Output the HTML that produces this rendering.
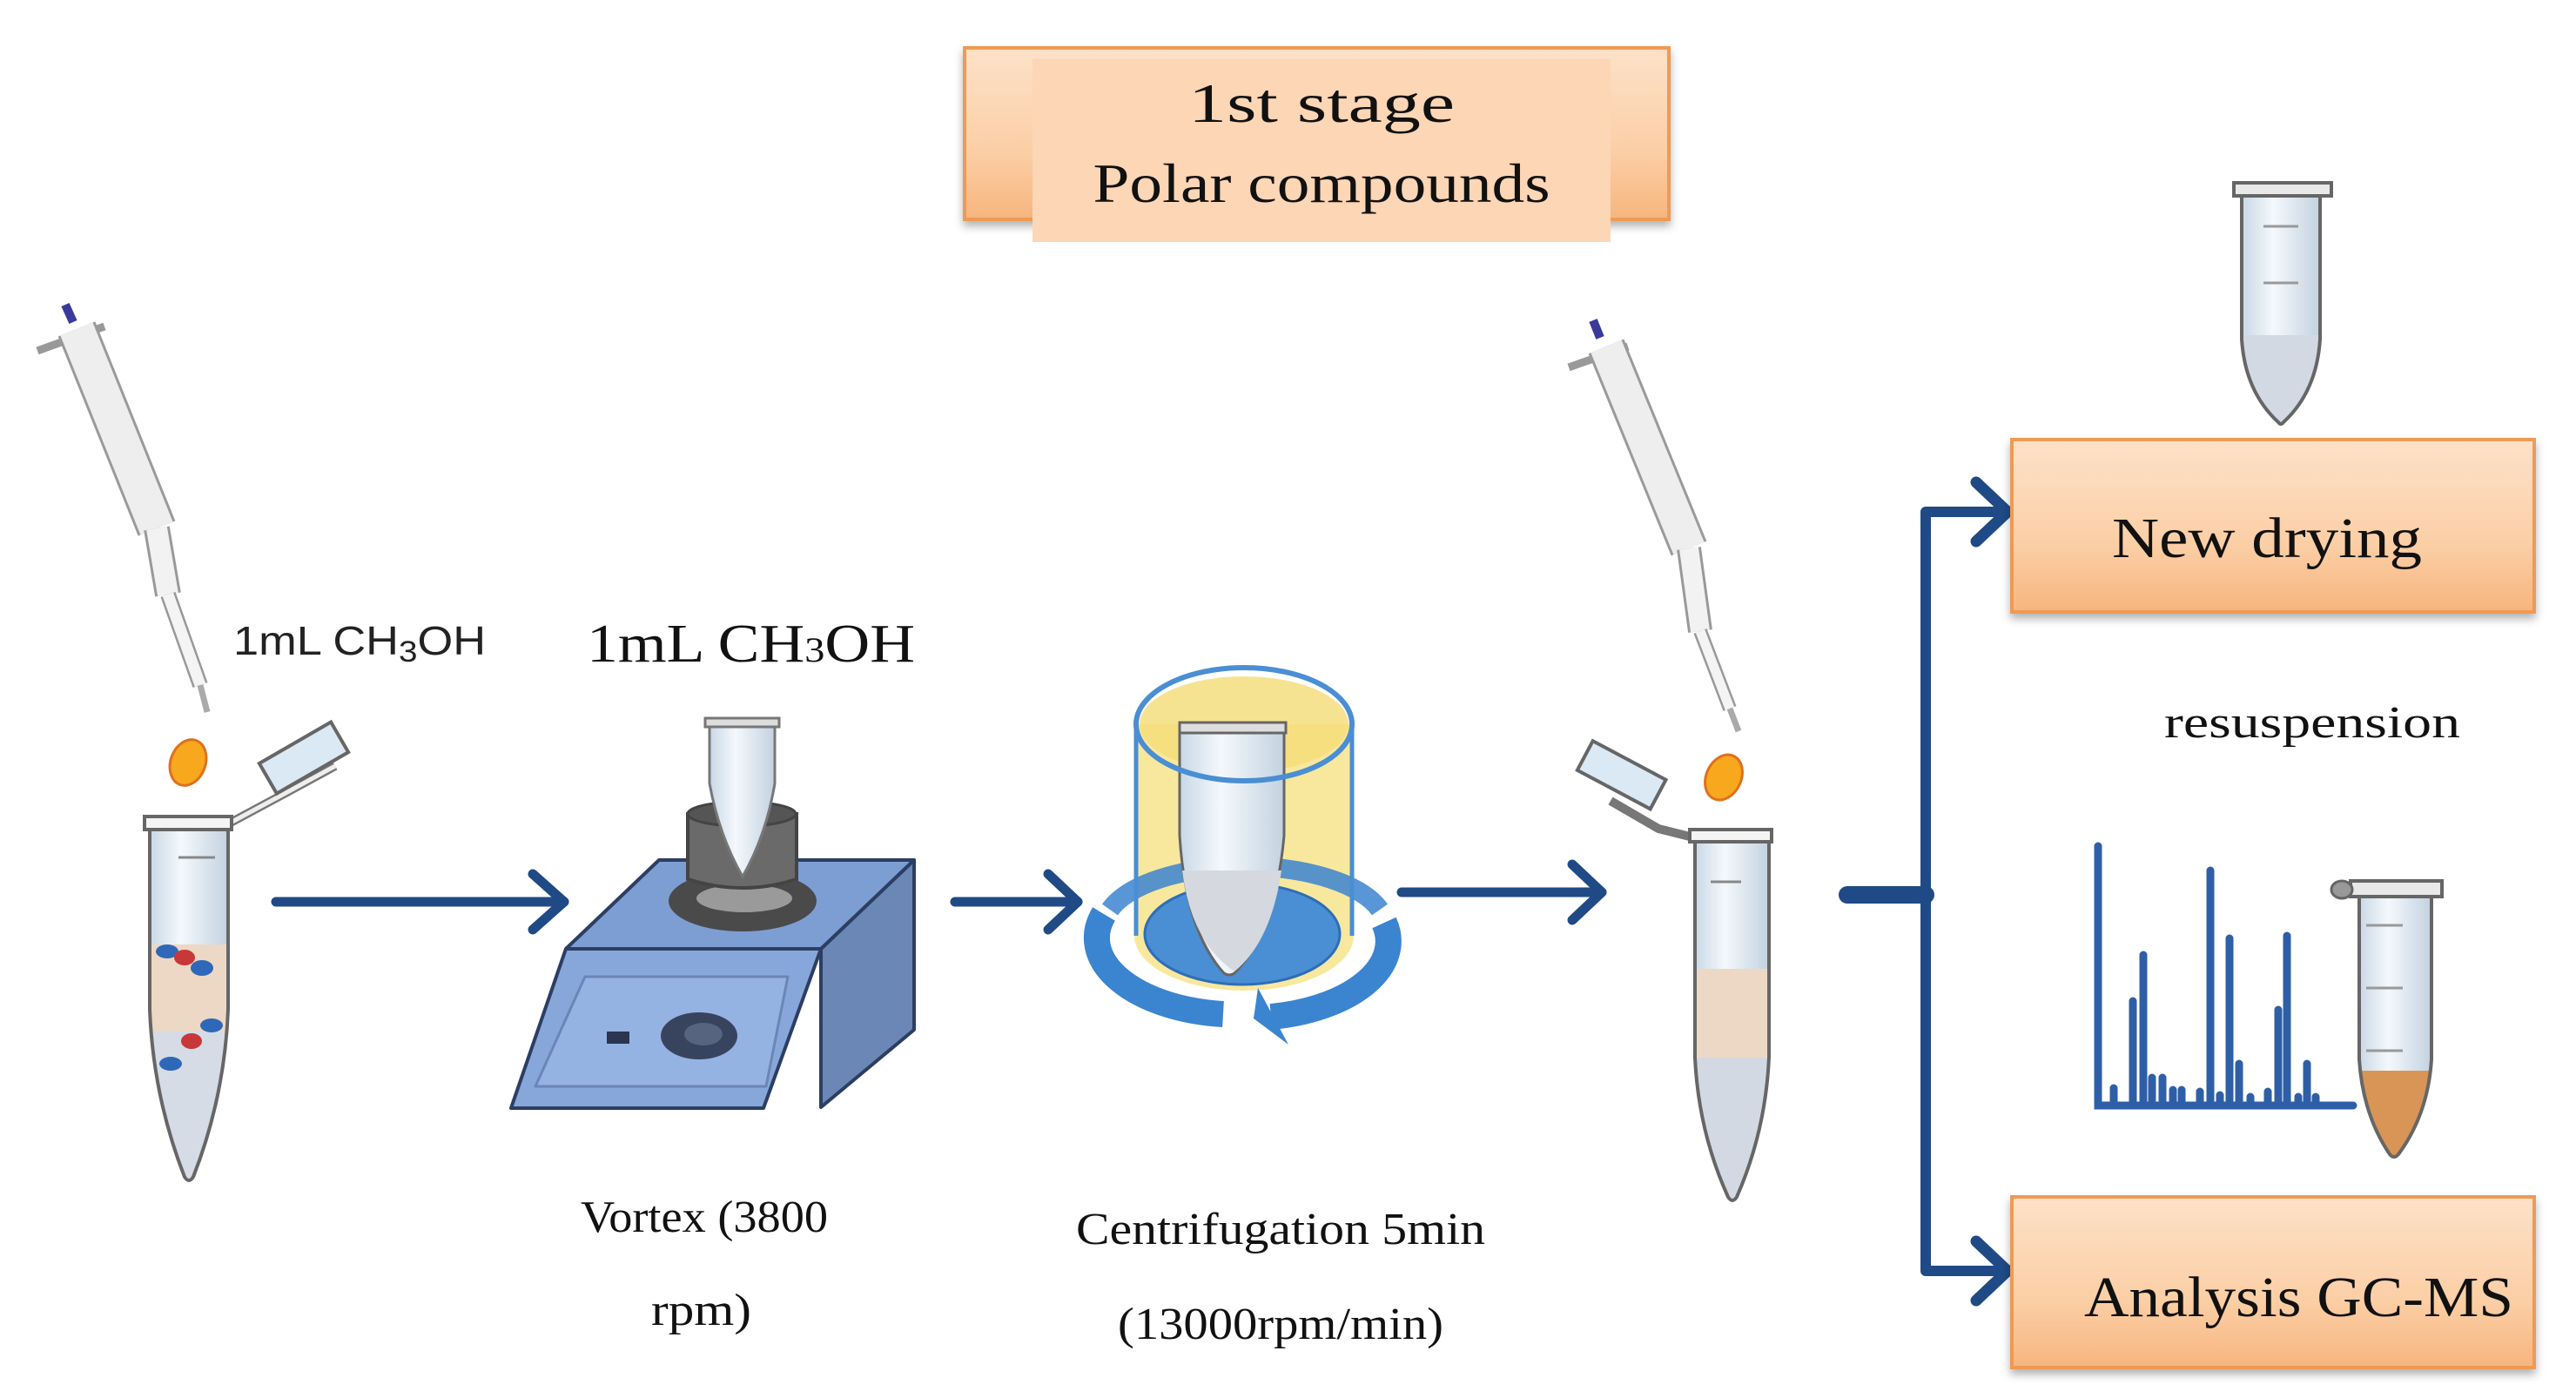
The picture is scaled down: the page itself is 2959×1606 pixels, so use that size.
<!DOCTYPE html>
<html><head><meta charset="utf-8"><style>
html,body{margin:0;padding:0;background:#fff;}
svg{display:block;}
.s{font-family:"Liberation Serif",serif;fill:#111;}
</style></head><body>
<svg width="2959" height="1606" viewBox="0 0 2959 1606" xmlns="http://www.w3.org/2000/svg">
<defs>
<linearGradient id="og" x1="0" y1="0" x2="0" y2="1">
<stop offset="0" stop-color="#fde1c8"/><stop offset="0.6" stop-color="#fbcfa6"/><stop offset="1" stop-color="#f7b57e"/></linearGradient>
<linearGradient id="tg" x1="0" y1="0" x2="1" y2="0">
<stop offset="0" stop-color="#c9d8e6"/><stop offset="0.4" stop-color="#f4f8fc"/><stop offset="1" stop-color="#c3d2e0"/></linearGradient>
<filter id="sh" x="-5%" y="-5%" width="110%" height="120%"><feDropShadow dx="0" dy="6" stdDeviation="5" flood-color="#000" flood-opacity="0.3"/></filter>
<clipPath id="c1"><path d="M172,952 L262,952 L262,1160 Q258,1260 222,1352 Q217,1360 212,1352 Q176,1260 172,1160 Z"/></clipPath>
<clipPath id="c2"><path d="M1947,966 L2032,966 L2032,1215 Q2028,1300 1995,1375 Q1990,1383 1985,1375 Q1951,1300 1947,1215 Z"/></clipPath>
<clipPath id="c3"><path d="M2710,1030 L2793,1030 L2793,1217 Q2789,1280 2755,1326 Q2750,1332 2745,1326 Q2714,1280 2710,1217 Z"/></clipPath>
<clipPath id="c4"><path d="M2575,225 L2665,225 L2665,390 Q2661,450 2623,485 Q2620,489 2617,485 Q2579,450 2575,390 Z"/></clipPath>
</defs>

<rect x="1108" y="55" width="809" height="197" fill="url(#og)" stroke="#ee9a55" stroke-width="4" filter="url(#sh)"/>
<rect x="1186" y="68" width="664" height="210" fill="#fcd6b5"/>
<text class="s" x="1518" y="140" font-size="64" text-anchor="middle" textLength="306" lengthAdjust="spacingAndGlyphs">1st stage</text>
<text class="s" x="1518" y="232" font-size="64" text-anchor="middle" textLength="525" lengthAdjust="spacingAndGlyphs">Polar compounds</text>

<g stroke-linecap="butt">
<line x1="43" y1="403" x2="120" y2="375" stroke="#999" stroke-width="9"/>
<line x1="75" y1="350" x2="84" y2="370" stroke="#3a3a9a" stroke-width="10"/>
<line x1="88" y1="378" x2="180" y2="607" stroke="#9a9a9a" stroke-width="46"/>
<line x1="88" y1="378" x2="180" y2="607" stroke="#eeeeee" stroke-width="40"/>
<line x1="180" y1="607" x2="193" y2="683" stroke="#999" stroke-width="30"/>
<line x1="180" y1="607" x2="193" y2="683" stroke="#f2f2f2" stroke-width="24"/>
<line x1="193" y1="683" x2="230" y2="787" stroke="#999" stroke-width="18"/>
<line x1="193" y1="683" x2="230" y2="787" stroke="#f4f4f4" stroke-width="13"/>
<line x1="230" y1="787" x2="238" y2="818" stroke="#aaa" stroke-width="7"/>
</g>
<ellipse cx="216" cy="876" rx="20" ry="27" fill="#f7a81c" stroke="#e0701c" stroke-width="3" transform="rotate(20 216 876)"/>
<text x="268" y="752" font-family="Liberation Sans, sans-serif" font-size="46" fill="#222" textLength="290" lengthAdjust="spacingAndGlyphs">1mL CH<tspan font-size="34" dy="8">3</tspan><tspan dy="-8">OH</tspan></text>

<path d="M263,946 L330,910 L385,880" stroke="#777" stroke-width="10" fill="none"/>
<path d="M263,946 L330,910 L385,880" stroke="#eee" stroke-width="5" fill="none"/>
<g transform="rotate(-30 340 870)"><rect x="300" y="855" width="95" height="40" fill="#dbe9f4" stroke="#666" stroke-width="4"/></g>
<path d="M172,952 L262,952 L262,1160 Q258,1260 222,1352 Q217,1360 212,1352 Q176,1260 172,1160 Z" fill="url(#tg)"/>
<g clip-path="url(#c1)">
<rect x="160" y="1085" width="120" height="100" fill="#ecd8c4"/>
<rect x="160" y="1185" width="120" height="200" fill="#d5dce6"/>
</g>
<path d="M172,952 L262,952 L262,1160 Q258,1260 222,1352 Q217,1360 212,1352 Q176,1260 172,1160 Z" fill="none" stroke="#666" stroke-width="4"/>
<line x1="205" y1="985" x2="247" y2="985" stroke="#888" stroke-width="3"/>
<rect x="166" y="938" width="100" height="15" fill="#f4f4f4" stroke="#666" stroke-width="4"/>
<g>
<ellipse cx="192" cy="1093" rx="13" ry="8" fill="#2f68b8"/><ellipse cx="212" cy="1100" rx="12" ry="9" fill="#c83838"/><ellipse cx="232" cy="1112" rx="13" ry="9" fill="#2f68b8"/>
<ellipse cx="243" cy="1178" rx="13" ry="8" fill="#2f68b8"/><ellipse cx="220" cy="1196" rx="12" ry="9" fill="#c83838"/><ellipse cx="196" cy="1222" rx="13" ry="8" fill="#2f68b8"/>
</g>

<g fill="none" stroke="#1f4a85" stroke-width="11" stroke-linecap="round" stroke-linejoin="round">
<line x1="317" y1="1036" x2="648" y2="1036"/><polyline points="612,1004 648,1036 612,1068"/>
<line x1="1097" y1="1036" x2="1238" y2="1036"/><polyline points="1204,1004 1238,1036 1204,1068"/>
<line x1="1610" y1="1025" x2="1840" y2="1025"/><polyline points="1806,993 1840,1025 1806,1057"/>
</g>

<text class="s" x="674" y="760" font-size="62" textLength="377" lengthAdjust="spacingAndGlyphs">1mL CH<tspan font-size="40">3</tspan>OH</text>
<g stroke="#2c3e62" stroke-width="4" stroke-linejoin="round">
<polygon points="943,1090 1050,988 1050,1183 943,1272" fill="#6a87b6"/>
<polygon points="650,1090 757,988 1050,988 943,1090" fill="#7d9ed3"/>
<polygon points="650,1090 943,1090 877,1273 587,1273" fill="#87a7da"/>
<polygon points="672,1122 905,1122 880,1248 615,1248" fill="#95b3e2" stroke="#6b86b5" stroke-width="3"/>
</g>
<rect x="697" y="1185" width="26" height="14" fill="#2a3550"/>
<ellipse cx="803" cy="1190" rx="44" ry="27" fill="#38445e"/><ellipse cx="808" cy="1188" rx="22" ry="13" fill="#566480"/>
<ellipse cx="853" cy="1035" rx="85" ry="35" fill="#4a4a4a"/>
<ellipse cx="855" cy="1032" rx="55" ry="16" fill="#9a9a9a"/>
<path d="M790,935 L790,1010 Q853,1030 915,1010 L915,935 Z" fill="#6a6a6a" stroke="#444" stroke-width="4"/>
<ellipse cx="852" cy="935" rx="62" ry="14" fill="#555" stroke="#444" stroke-width="3"/>
<path d="M815,833 L890,833 L890,900 Q880,960 853,1007 Q826,960 815,900 Z" fill="url(#tg)" stroke="#777" stroke-width="3"/>
<rect x="810" y="825" width="85" height="10" fill="#ddd" stroke="#777" stroke-width="3"/>
<text class="s" x="667" y="1415" font-size="52" textLength="284" lengthAdjust="spacingAndGlyphs">Vortex (3800</text>
<text class="s" x="748" y="1522" font-size="52" textLength="115" lengthAdjust="spacingAndGlyphs">rpm)</text>

<path d="M1303,832 L1303,1075 A124 62 0 0 0 1555,1075 L1555,832 Z" fill="#f7e693" opacity="0.9"/>
<ellipse cx="1429" cy="832" rx="120" ry="55" fill="#f4dc77" opacity="0.8"/>
<ellipse cx="1427" cy="1073" rx="112" ry="58" fill="#4a8ed4" stroke="#2e6db8" stroke-width="3"/>
<path d="M1268,1050 A162 88 0 0 0 1405,1165" fill="none" stroke="#3b84d0" stroke-width="30"/>
<path d="M1460,1168 A162 88 0 0 0 1590,1060" fill="none" stroke="#3b84d0" stroke-width="30"/>
<path d="M1275,1045 A162 70 0 0 1 1585,1045" fill="none" stroke="#3b84d0" stroke-width="22" opacity="0.85"/>
<polygon points="1445,1135 1480,1200 1440,1170" fill="#3b84d0"/>
<path d="M1355,840 L1475,840 L1475,960 Q1465,1070 1418,1118 Q1412,1122 1406,1118 Q1362,1070 1355,960 Z" fill="url(#tg)" stroke="#666" stroke-width="3"/>
<path d="M1358,1000 L1472,1000 Q1460,1082 1418,1116 Q1368,1082 1358,1000 Z" fill="#d5d8de"/>
<rect x="1355" y="830" width="122" height="12" fill="#ddd" stroke="#666" stroke-width="3"/>
<line x1="1305" y1="830" x2="1305" y2="1075" stroke="#4a8ed4" stroke-width="5"/>
<line x1="1553" y1="830" x2="1553" y2="1075" stroke="#4a8ed4" stroke-width="5"/>
<ellipse cx="1429" cy="832" rx="124" ry="65" fill="none" stroke="#4a8ed4" stroke-width="6"/>
<text class="s" x="1236" y="1429" font-size="52" textLength="470" lengthAdjust="spacingAndGlyphs">Centrifugation 5min</text>
<text class="s" x="1284" y="1538" font-size="52" textLength="374" lengthAdjust="spacingAndGlyphs">(13000rpm/min)</text>

<g>
<line x1="1802" y1="422" x2="1870" y2="398" stroke="#999" stroke-width="9"/>
<line x1="1830" y1="368" x2="1838" y2="388" stroke="#3a3a9a" stroke-width="10"/>
<line x1="1845" y1="398" x2="1940" y2="630" stroke="#9a9a9a" stroke-width="44"/>
<line x1="1845" y1="398" x2="1940" y2="630" stroke="#eeeeee" stroke-width="38"/>
<line x1="1940" y1="630" x2="1953" y2="725" stroke="#999" stroke-width="28"/>
<line x1="1940" y1="630" x2="1953" y2="725" stroke="#f2f2f2" stroke-width="22"/>
<line x1="1953" y1="725" x2="1987" y2="814" stroke="#999" stroke-width="16"/>
<line x1="1953" y1="725" x2="1987" y2="814" stroke="#f4f4f4" stroke-width="11"/>
<line x1="1987" y1="814" x2="1997" y2="840" stroke="#aaa" stroke-width="7"/>
</g>
<ellipse cx="1980" cy="893" rx="20" ry="27" fill="#f7a81c" stroke="#e0701c" stroke-width="3" transform="rotate(25 1980 893)"/>

<path d="M1945,962 L1905,952 L1850,920" stroke="#777" stroke-width="10" fill="none"/>
<g transform="rotate(28 1860 890)"><rect x="1815" y="870" width="95" height="38" fill="#dbe9f4" stroke="#666" stroke-width="4"/></g>
<path d="M1947,966 L2032,966 L2032,1215 Q2028,1300 1995,1375 Q1990,1383 1985,1375 Q1951,1300 1947,1215 Z" fill="url(#tg)"/>
<g clip-path="url(#c2)">
<rect x="1940" y="1113" width="100" height="102" fill="#ecd8c4"/>
<rect x="1940" y="1215" width="100" height="200" fill="#d3d9e2"/>
</g>
<path d="M1947,966 L2032,966 L2032,1215 Q2028,1300 1995,1375 Q1990,1383 1985,1375 Q1951,1300 1947,1215 Z" fill="none" stroke="#666" stroke-width="4"/>
<line x1="1965" y1="1013" x2="2000" y2="1013" stroke="#888" stroke-width="3"/>
<rect x="1941" y="953" width="94" height="14" fill="#f4f4f4" stroke="#666" stroke-width="4"/>

<g fill="none" stroke="#1f4a85" stroke-linecap="round" stroke-linejoin="round">
<line x1="2122" y1="1028" x2="2212" y2="1028" stroke-width="20"/>
<polyline points="2305,588 2212,588 2212,1460 2305,1460" stroke-width="12"/>
<polyline points="2270,554 2306,588 2270,622" stroke-width="13"/>
<polyline points="2270,1426 2306,1460 2270,1494" stroke-width="13"/>
</g>

<rect x="2311" y="505" width="600" height="198" fill="url(#og)" stroke="#ee9a55" stroke-width="4" filter="url(#sh)"/>
<text class="s" x="2426" y="640" font-size="66" textLength="356" lengthAdjust="spacingAndGlyphs">New drying</text>
<rect x="2311" y="1375" width="600" height="196" fill="url(#og)" stroke="#ee9a55" stroke-width="4" filter="url(#sh)"/>
<text class="s" x="2394" y="1512" font-size="66" textLength="493" lengthAdjust="spacingAndGlyphs">Analysis GC-MS</text>
<text class="s" x="2486" y="847" font-size="52" textLength="340" lengthAdjust="spacingAndGlyphs">resuspension</text>

<path d="M2575,225 L2665,225 L2665,390 Q2661,450 2623,485 Q2620,489 2617,485 Q2579,450 2575,390 Z" fill="url(#tg)"/>
<g clip-path="url(#c4)"><rect x="2570" y="385" width="100" height="110" fill="#d3d9e2"/></g>
<path d="M2575,225 L2665,225 L2665,390 Q2661,450 2623,485 Q2620,489 2617,485 Q2579,450 2575,390 Z" fill="none" stroke="#666" stroke-width="4"/>
<rect x="2566" y="210" width="112" height="15" fill="#e8e8e8" stroke="#666" stroke-width="4"/>
<line x1="2600" y1="260" x2="2640" y2="260" stroke="#999" stroke-width="3"/>
<line x1="2600" y1="325" x2="2640" y2="325" stroke="#999" stroke-width="3"/>

<g stroke="#2e5fa6" stroke-width="9" stroke-linecap="round" fill="none">
<polyline points="2410,972 2410,1270 2703,1270"/>
<line x1="2450" y1="1270" x2="2450" y2="1150"/>
<line x1="2462" y1="1270" x2="2462" y2="1097"/>
<line x1="2539" y1="1270" x2="2539" y2="1000"/>
<line x1="2561" y1="1270" x2="2561" y2="1078"/>
<line x1="2572" y1="1270" x2="2572" y2="1222"/>
<line x1="2617" y1="1270" x2="2617" y2="1160"/>
<line x1="2627" y1="1270" x2="2627" y2="1075"/>
<line x1="2650" y1="1270" x2="2650" y2="1222"/>
<line x1="2428" y1="1270" x2="2428" y2="1250"/>
<line x1="2472" y1="1270" x2="2472" y2="1238"/>
<line x1="2484" y1="1270" x2="2484" y2="1238"/>
<line x1="2496" y1="1270" x2="2496" y2="1252"/>
<line x1="2506" y1="1270" x2="2506" y2="1252"/>
<line x1="2527" y1="1270" x2="2527" y2="1254"/>
<line x1="2550" y1="1270" x2="2550" y2="1258"/>
<line x1="2585" y1="1270" x2="2585" y2="1260"/>
<line x1="2605" y1="1270" x2="2605" y2="1254"/>
<line x1="2640" y1="1270" x2="2640" y2="1260"/>
<line x1="2660" y1="1270" x2="2660" y2="1260"/>
</g>

<path d="M2710,1030 L2793,1030 L2793,1217 Q2789,1280 2755,1326 Q2750,1332 2745,1326 Q2714,1280 2710,1217 Z" fill="url(#tg)"/>
<g clip-path="url(#c3)"><rect x="2700" y="1230" width="100" height="110" fill="#d99556"/></g>
<path d="M2710,1030 L2793,1030 L2793,1217 Q2789,1280 2755,1326 Q2750,1332 2745,1326 Q2714,1280 2710,1217 Z" fill="none" stroke="#666" stroke-width="4"/>
<rect x="2700" y="1012" width="105" height="18" fill="#e8e8e8" stroke="#666" stroke-width="4"/>
<ellipse cx="2690" cy="1022" rx="12" ry="10" fill="#999" stroke="#666" stroke-width="3"/>
<line x1="2718" y1="1063" x2="2760" y2="1063" stroke="#999" stroke-width="3"/>
<line x1="2718" y1="1135" x2="2760" y2="1135" stroke="#999" stroke-width="3"/>
<line x1="2718" y1="1207" x2="2760" y2="1207" stroke="#999" stroke-width="3"/>
</svg>
</body></html>
